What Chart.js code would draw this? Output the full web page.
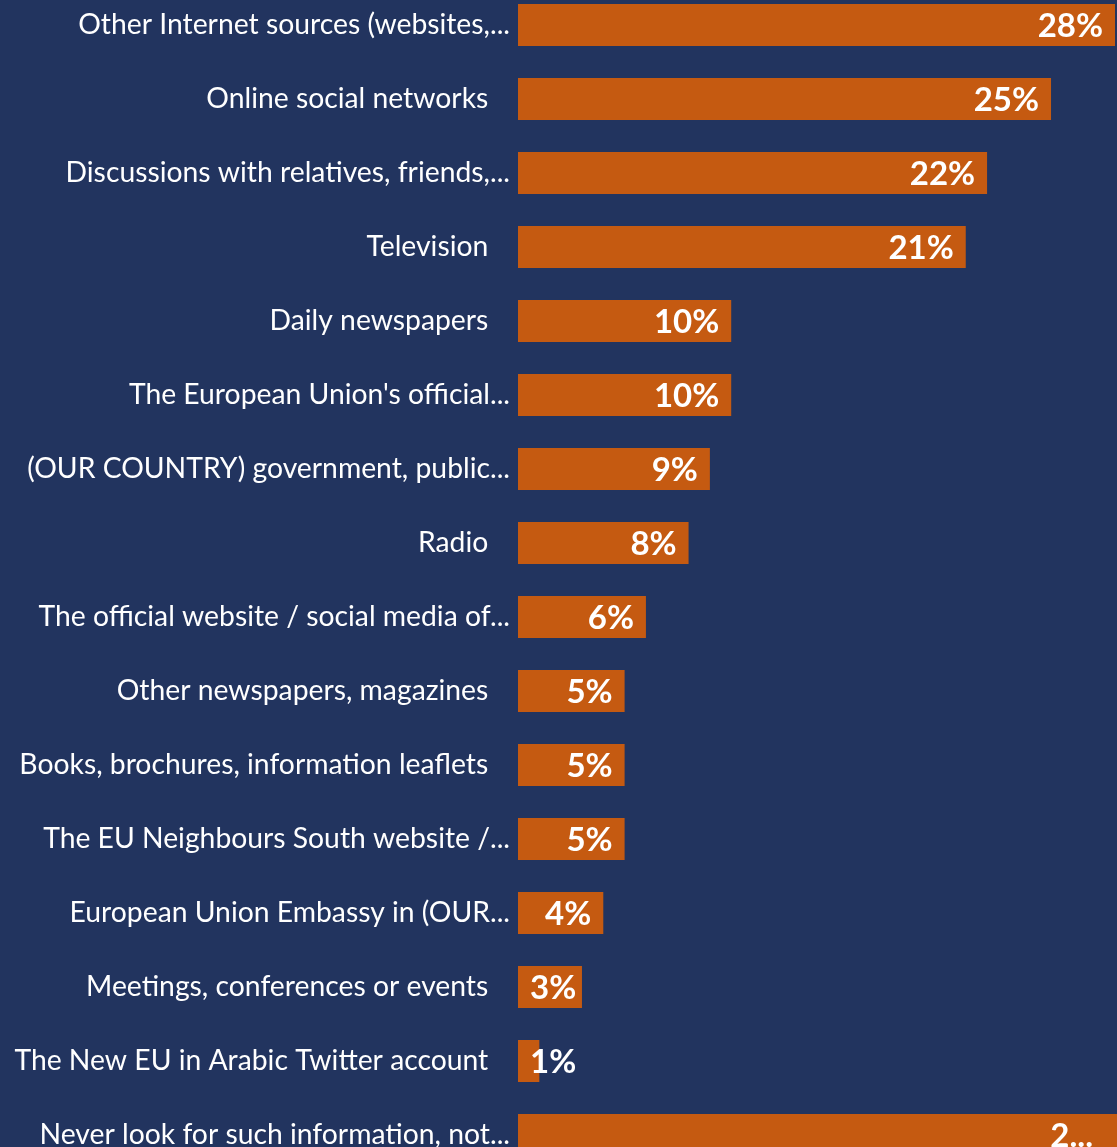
<!DOCTYPE html>
<html>
<head>
<meta charset="utf-8">
<script src="https://cdn.jsdelivr.net/npm/chart.js@4.4.1/dist/chart.umd.min.js"></script>
<style>
html,body{margin:0;padding:0;background:#22345F;overflow:hidden;width:1117px;height:1147px;}
#wrap{position:absolute;left:0;top:-12px;width:1117px;height:1184px;}
</style>
</head>
<body>
<div id="wrap"><canvas id="c" width="1117" height="1184"></canvas></div>
<script>
const categories = [
  "Other Internet sources (websites,...",
  "Online social networks   ",
  "Discussions with relatives, friends,...",
  "Television   ",
  "Daily newspapers   ",
  "The European Union's official...",
  "(OUR COUNTRY) government, public...",
  "Radio   ",
  "The official website / social media of...",
  "Other newspapers, magazines   ",
  "Books, brochures, information leaflets   ",
  "The EU Neighbours South website /...",
  "European Union Embassy in (OUR...",
  "Meetings, conferences or events   ",
  "The New EU in Arabic Twitter account   ",
  "Never look for such information, not..."
];
const values = [28, 25, 22, 21, 10, 10, 9, 8, 6, 5, 5, 5, 4, 3, 1, 29];
const axisMax = 28;

const BG = '#22345F';
const BAR = '#C55A11';

const valueLabels = {
  id: 'valueLabels',
  afterDatasetsDraw(chart) {
    const ctx = chart.ctx;
    const meta = chart.getDatasetMeta(0);
    const area = chart.chartArea;
    ctx.save();
    ctx.font = 'bold 33px Lato';
    ctx.fillStyle = '#FFFFFF';
    ctx.textBaseline = 'middle';
    ctx.textAlign = 'left';
    meta.data.forEach((bar, i) => {
      const v = values[i];
      let text = v + '%';
      let right;
      if (bar.x > area.right) {
        text = String(v)[0] + '...';
        right = area.right - 22;
      } else {
        right = bar.x - 12;
      }
      const w = ctx.measureText(text).width;
      let left = right - w;
      if (left < bar.base + 12) left = bar.base + 12;
      ctx.fillText(text, left, bar.y + 1);
    });
    ctx.restore();
  }
};

new Chart(document.getElementById('c'), {
  type: 'bar',
  data: {
    labels: categories,
    datasets: [{
      data: values,
      backgroundColor: BAR,
      borderWidth: 0,
      barPercentage: 0.57,
      categoryPercentage: 1.0,
      clip: false
    }]
  },
  options: {
    indexAxis: 'y',
    responsive: false,
    animation: false,
    layout: { padding: { left: 0, right: 2, top: 0, bottom: 0 } },
    plugins: {
      legend: { display: false },
      tooltip: { enabled: false }
    },
    scales: {
      x: {
        display: false,
        min: 0,
        max: axisMax
      },
      y: {
        afterFit(scale) {
          scale.width = 518;
          scale.paddingTop = 0;
          scale.paddingBottom = 0;
        },
        grid: { display: false, drawTicks: false },
        border: { display: false },
        ticks: {
          color: '#FFFFFF',
          font: { family: 'Lato', size: 28.3 },
          padding: 8,
          autoSkip: false
        }
      }
    }
  },
  plugins: [valueLabels]
});
</script>
</body>
</html>
